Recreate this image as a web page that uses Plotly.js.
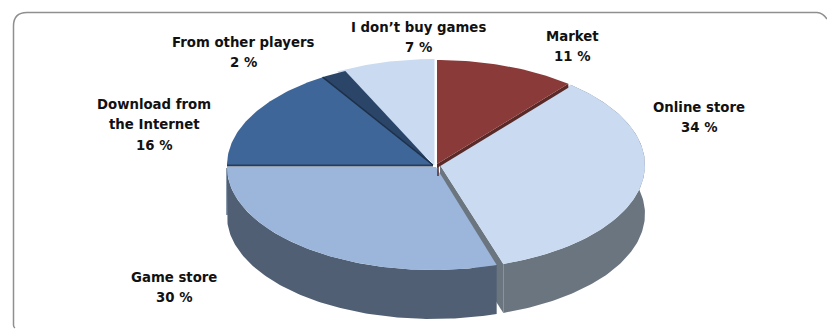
<!DOCTYPE html>
<html>
<head>
<meta charset="utf-8">
<script src="https://cdn.plot.ly/plotly-3.0.1.min.js"></script>
<style>html,body{margin:0;padding:0;background:#fff}#chart{width:827px;height:329px}</style>
</head>
<body>
<div id="chart"></div>
<script>
// Where respondents get their games, share in percent
const categories = ["Market", "Online store", "Game store", "Download from the Internet", "From other players", "I don\u2019t buy games"];
const percentages = [11, 34, 30, 16, 2, 7];
const labelLines = [["Market"], ["Online store"], ["Game store"], ["Download from", "the Internet"], ["From other players"], ["I don\u2019t buy games"]];
const labelCentreX = [572, 699, 174, 154, 243, 418];
const labelTopY = [36, 107, 277, 104, 42, 27];
const topColours = ["#8a3a38", "#c9daf1", "#9bb6da", "#3f6698", "#2a4568", "#c9daf1"];
const wallColours = { online: "#6b7580", game: "#505f73" };

// Slice geometry of the tilted disc, in plot pixels
const depth = 49;
const discs = [
  { cx: 437, cy: 164, a: 206, b: 104 },
  { cx: 440, cy: 165, a: 205, b: 104 },
  { cx: 433, cy: 167, a: 206, b: 103, apexX: 436 },
  { cx: 433, cy: 165, a: 206, b: 104 },
  { cx: 433, cy: 165, a: 206, b: 104 },
  { cx: 434.5, cy: 165, a: 206, b: 106 }
];

// Cumulative angle of each slice edge, clockwise from twelve o'clock
const total = percentages.reduce((s, v) => s + v, 0);
const edges = [0];
percentages.forEach(v => edges.push(edges[edges.length - 1] + v / total * 360));

function rim(d, t) {
  const r = t * Math.PI / 180;
  return [d.cx + d.a * Math.sin(r), d.cy - d.b * Math.cos(r)];
}
function rimArc(d, t0, t1) {
  const out = [];
  const n = Math.max(2, Math.ceil(Math.abs(t1 - t0)));
  for (let i = 0; i <= n; i++) out.push(rim(d, t0 + (t1 - t0) * i / n));
  return out;
}
function poly(points, colour, name) {
  return {
    type: "scatter", mode: "lines", fill: "toself", fillcolor: colour, name: name,
    x: points.map(p => p[0]).concat(points[0][0]),
    y: points.map(p => p[1]).concat(points[0][1]),
    line: { width: 0, color: colour }, hoverinfo: "skip", showlegend: false
  };
}
function stroke(points, colour, width) {
  return {
    type: "scatter", mode: "lines", x: points.map(p => p[0]), y: points.map(p => p[1]),
    line: { width: width, color: colour }, hoverinfo: "skip", showlegend: false
  };
}
const apex = i => [discs[i].apexX || discs[i].cx, discs[i].cy];
const shift = (p, dy) => [p[0], p[1] + dy];
// tuck lets a slice run slightly under its neighbour so no paper shows at the seam
function wedge(i, tuck) {
  return poly([apex(i)].concat(rimArc(discs[i], edges[i] - (tuck || 0), edges[i + 1])), topColours[i], categories[i]);
}
function wall(i, colour) {
  const arc = rimArc(discs[i], edges[i], edges[i + 1]);
  return poly(arc.concat(arc.slice().reverse().map(p => shift(p, depth))), colour, categories[i] + " side");
}

// Painter's order: cut face and walls first, then the slice tops
const onlineEnd = rim(discs[1], edges[2]);
const marketEnd = rim(discs[0], edges[1]);
const downloadStart = rim(discs[3], edges[3]);
const otherStart = rim(discs[4], edges[4]);

const traces = [
  poly([apex(1), onlineEnd, shift(onlineEnd, depth), shift(apex(1), depth)], wallColours.online, "Online store cut"),
  wall(1, wallColours.online),
  wall(2, wallColours.game),
  stroke([[downloadStart[0], 168], [downloadStart[0], 168 + depth - 2]], "#3e5675", 1.2),
  wedge(1),
  wedge(2),
  wedge(5, 3),
  wedge(3),
  stroke([[downloadStart[0], 165.5], [apex(3)[0], 165.5]], "#253c5c", 2),
  wedge(4),
  stroke([otherStart, apex(4)], "#1c2f48", 1.5),
  poly([apex(0), marketEnd, shift(marketEnd, 4), shift(apex(0), 4)], "#5a2a28", "Market cut"),
  stroke([[438, 164], [438, 176]], "#5a2a28", 1.5),
  wedge(0)
];

// One annotation per text line, with the value line below the name
const lineGap = 20.5;
const annotations = [];
categories.forEach((c, i) => {
  const lines = labelLines[i].concat(percentages[i] + " %");
  lines.forEach((t, j) => annotations.push({
    x: labelCentreX[i], y: labelTopY[i] + j * lineGap, text: t, showarrow: false,
    xanchor: "center", yanchor: "middle",
    font: { family: "DejaVu Sans", size: 13.3, color: "#111111", weight: 700 }
  }));
});

const layout = {
  width: 827, height: 329, margin: { l: 0, r: 0, t: 0, b: 0 },
  paper_bgcolor: "#ffffff", plot_bgcolor: "#ffffff", showlegend: false,
  xaxis: { range: [0, 827], visible: false, fixedrange: true },
  yaxis: { range: [329, 0], visible: false, fixedrange: true },
  annotations: annotations,
  shapes: [{
    type: "path", layer: "below",
    path: "M 15 328 Q 13.5 327 13.5 325 L 13.5 26 Q 13.5 12.5 27 12.5 L 817 12.5 Q 823 13 827 19",
    line: { color: "#8f8f8f", width: 1.5 }
  }]
};

Plotly.newPlot("chart", traces, layout, { displayModeBar: false, staticPlot: true });
</script>
</body>
</html>
